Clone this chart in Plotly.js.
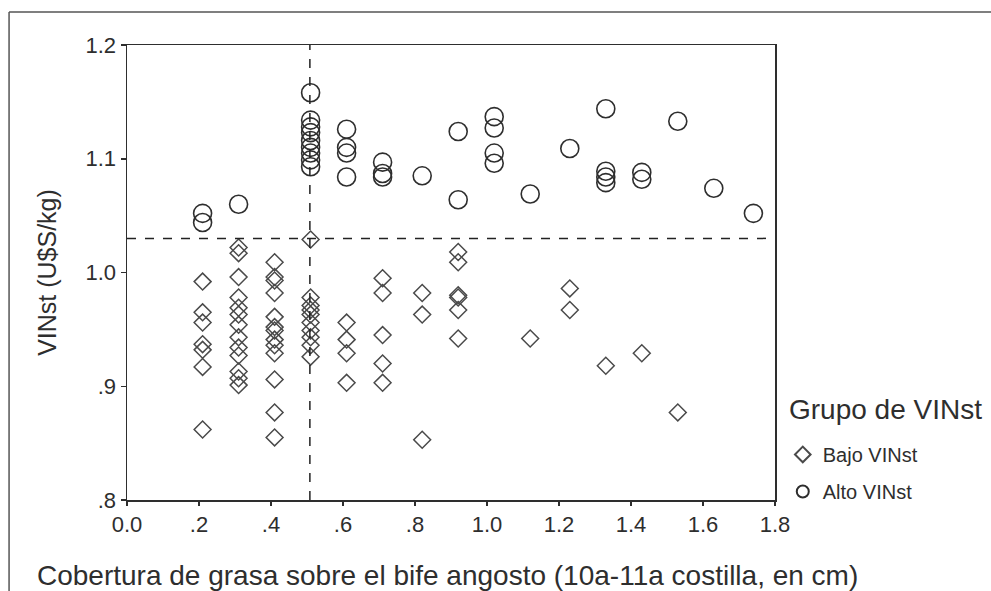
<!DOCTYPE html>
<html>
<head>
<meta charset="utf-8">
<script src="https://cdn.plot.ly/plotly-3.0.1.min.js"></script>
<style>html,body{margin:0;padding:0;background:#fff;}#chart{width:991px;height:591px;}</style>
</head>
<body>
<div id="chart"></div>
<script>
// Bajo VINst (diamonds)
var bajoX = [
  0.21,0.21,0.21,0.21,0.21,0.21,0.21,
  0.31,0.31,0.31,0.31,0.31,0.31,0.31,0.31,0.31,0.31,0.31,0.31,0.31,
  0.41,0.41,0.41,0.41,0.41,0.41,0.41,0.41,0.41,0.41,0.41,0.41,0.41,
  0.51,0.51,0.51,0.51,0.51,0.51,0.51,0.51,0.51,0.51,
  0.61,0.61,0.61,0.61,
  0.71,0.71,0.71,0.71,0.71,
  0.82,0.82,0.82,
  0.92,0.92,0.92,0.92,0.92,0.92,
  1.12,
  1.23,1.23,
  1.33,
  1.43,
  1.53
];
var bajoY = [
  0.992,0.965,0.956,0.937,0.932,0.917,0.862,
  1.022,1.017,0.996,0.978,0.969,0.963,0.954,0.943,0.934,0.927,0.913,0.907,0.901,
  1.009,0.996,0.993,0.982,0.961,0.952,0.949,0.941,0.936,0.929,0.906,0.877,0.855,
  1.029,0.978,0.971,0.967,0.963,0.956,0.949,0.943,0.936,0.926,
  0.956,0.941,0.929,0.903,
  0.995,0.982,0.945,0.920,0.903,
  0.982,0.963,0.853,
  1.018,1.009,0.980,0.978,0.967,0.942,
  0.942,
  0.986,0.967,
  0.918,
  0.929,
  0.877
];
// Alto VINst (circles)
var altoX = [
  0.21,0.21,
  0.31,
  0.51,0.51,0.51,0.51,0.51,0.51,0.51,0.51,0.51,
  0.61,0.61,0.61,0.61,
  0.71,0.71,0.71,
  0.82,
  0.92,0.92,
  1.02,1.02,1.02,1.02,
  1.12,
  1.23,
  1.33,1.33,1.33,1.33,
  1.43,1.43,
  1.53,
  1.63,
  1.74
];
var altoY = [
  1.052,1.044,
  1.060,
  1.158,1.134,1.128,1.123,1.116,1.110,1.105,1.099,1.093,
  1.126,1.110,1.105,1.084,
  1.097,1.087,1.084,
  1.085,
  1.124,1.064,
  1.137,1.127,1.105,1.096,
  1.069,
  1.109,
  1.144,1.089,1.084,1.079,
  1.088,1.082,
  1.133,
  1.074,
  1.052
];
var refX = 0.508;   // vertical reference line
var refY = 1.03;    // horizontal reference line
var xTickVals = [0,0.2,0.4,0.6,0.8,1.0,1.2,1.4,1.6,1.8];
var xTickText = ['0.0','.2','.4','.6','.8','1.0','1.2','1.4','1.6','1.8'];
var yTickVals = [0.8,0.9,1.0,1.1,1.2];
var yTickText = ['.8','.9','1.0','1.1','1.2'];

var ink = '#2e2e2e';
var fontFam = 'Liberation Sans, Arial, Helvetica, sans-serif';

var traces = [
  {x: bajoX, y: bajoY, mode: 'markers', type: 'scatter', name: 'Bajo VINst', legendgroup: 'b',
   marker: {symbol: 'diamond-open', size: 13, color: '#4a4a4a', line: {width: 1.5, color: '#4a4a4a'}}},
  {x: altoX, y: altoY, mode: 'markers', type: 'scatter', name: 'Alto VINst', legendgroup: 'a',
   marker: {symbol: 'circle-open', size: 18, color: ink, line: {width: 1.6, color: ink}}}
];

var layout = {
  width: 991, height: 591,
  margin: {l: 127, r: 216, t: 45, b: 91, pad: 0},
  paper_bgcolor: '#ffffff', plot_bgcolor: '#ffffff',
  font: {family: fontFam, color: ink, size: 16},
  showlegend: true,
  legend: {
    x: 1.012, y: 0.143, xanchor: 'left', yanchor: 'top',
    font: {size: 20, color: ink},
    bgcolor: 'rgba(0,0,0,0)', itemsizing: 'constant', tracegroupgap: 8
  },
  xaxis: {
    range: [0, 1.8], tickvals: xTickVals, ticktext: xTickText,
    showgrid: false, zeroline: false, showline: true, linecolor: ink, linewidth: 1.5,
    mirror: true, ticks: 'outside', ticklen: 4, tickwidth: 1.5, tickcolor: ink,
    tickfont: {size: 22, color: ink}
  },
  yaxis: {
    range: [0.8, 1.2], tickvals: yTickVals, ticktext: yTickText,
    showgrid: false, zeroline: false, showline: true, linecolor: ink, linewidth: 1.5,
    mirror: true, ticks: 'outside', ticklen: 5, tickwidth: 1.5, tickcolor: ink,
    tickfont: {size: 22, color: ink},
    title: {text: 'VINst (U$S/kg)', font: {size: 25, color: ink}, standoff: 22}
  },
  shapes: [
    {type: 'line', xref: 'x', yref: 'y', x0: refX, x1: refX, y0: 0.8, y1: 1.2,
     line: {color: '#222', width: 1.5, dash: 'dash'}},
    {type: 'line', xref: 'x', yref: 'y', x0: 0, x1: 1.8, y0: refY, y1: refY,
     line: {color: '#222', width: 1.5, dash: 'dash'}},
    {type: 'line', xref: 'paper', yref: 'paper', x0: -0.182, x1: -0.182, y0: -0.25, y1: 1.0725,
     line: {color: '#555', width: 1.5}},
    {type: 'line', xref: 'paper', yref: 'paper', x0: -0.182, x1: 1.35, y0: 1.0725, y1: 1.0725,
     line: {color: '#555', width: 1.5}}
  ],
  annotations: [
    {text: 'Cobertura de grasa sobre el bife angosto (10a-11a costilla, en cm)',
     xref: 'paper', yref: 'paper', x: -0.142, y: -0.165, xanchor: 'left', yanchor: 'middle',
     showarrow: false, font: {size: 28, color: ink}},
    {text: 'Grupo de VINst',
     xref: 'paper', yref: 'paper', x: 1.0185, y: 0.198, xanchor: 'left', yanchor: 'middle',
     showarrow: false, font: {size: 28, color: ink}}
  ]
};

Plotly.newPlot('chart', traces, layout, {displayModeBar: false, staticPlot: true});
</script>
</body>
</html>
